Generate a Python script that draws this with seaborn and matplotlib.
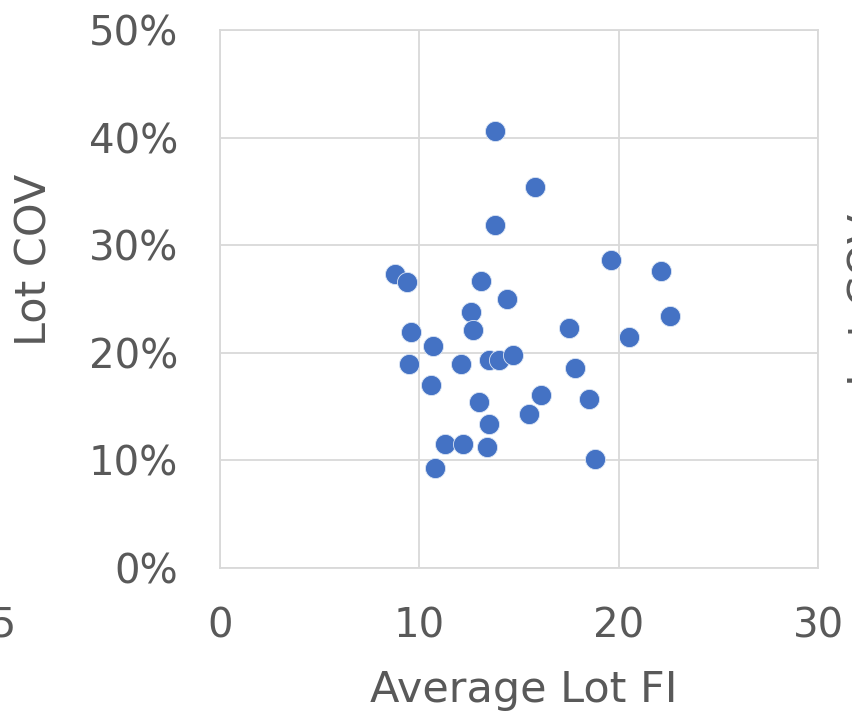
import matplotlib
matplotlib.use("Agg")
import matplotlib.pyplot as plt
import seaborn as sns
import pandas as pd
from matplotlib.ticker import PercentFormatter, MultipleLocator

avg_lot_fi = [8.8, 9.4, 13.1, 14.4, 12.6, 12.7, 9.6, 10.7, 9.5, 12.1, 13.5, 14.0,
              14.7, 10.6, 13.0, 13.5, 11.3, 12.2, 13.4, 10.8, 16.1, 15.5, 17.5,
              17.8, 18.5, 18.8, 19.6, 22.1, 22.6, 20.5, 13.8, 15.8, 13.8]
lot_cov = [0.273, 0.266, 0.267, 0.250, 0.238, 0.221, 0.2195, 0.206, 0.190, 0.190,
           0.193, 0.193, 0.198, 0.170, 0.154, 0.134, 0.1155, 0.1155, 0.112, 0.093,
           0.161, 0.143, 0.223, 0.186, 0.157, 0.101, 0.286, 0.276, 0.234, 0.215,
           0.406, 0.354, 0.319]

df = pd.DataFrame({"Average Lot FI": avg_lot_fi, "Lot COV": lot_cov})

sns.set_theme(style="white")
plt.rcParams['font.family'] = ['DejaVu Sans']
text_color = "#595959"
grid_color = "#D9D9D9"

fig = plt.figure(figsize=(8.53, 7.22), dpi=100)
ax = fig.add_axes([220/853, 1 - 568/722, (818 - 220)/853, (568 - 30)/722])

sns.scatterplot(data=df, x="Average Lot FI", y="Lot COV", ax=ax,
                color="#4472C4", s=210, edgecolor="#DCE6F5", linewidth=0.6,
                zorder=3, clip_on=False)

ax.set_xlim(0, 30)
ax.set_ylim(0, 0.5)
ax.xaxis.set_major_locator(MultipleLocator(10))
ax.yaxis.set_major_locator(MultipleLocator(0.1))
ax.yaxis.set_major_formatter(PercentFormatter(1.0, decimals=0))
ax.grid(True, color=grid_color, linewidth=1.3)
for s in ax.spines.values():
    s.set_color(grid_color)
    s.set_linewidth(1.3)

ax.tick_params(axis="both", length=0, labelsize=29, colors=text_color)
ax.tick_params(axis="y", pad=30)
ax.tick_params(axis="x", pad=28)

ax.set_xlabel("Average Lot FI", fontsize=31, color=text_color)
ax.set_ylabel("Lot COV", fontsize=31, color=text_color)
ax.xaxis.set_label_coords(524/598 - 220/598 * 0 - 0.0, 0)  # placeholder, reset below
ax.xaxis.set_label_coords((524 - 220)/598, -(690 - 568)/538)
ax.xaxis.label.set_va("center")
ax.yaxis.set_label_coords(-(220 - 35)/598, (568 - 260)/538)
ax.yaxis.label.set_va("center")

# fragments of neighbouring charts, cut by the crop
fig.text(-9/853, 1 - 627/722, "25", fontsize=29, color=text_color,
         ha="center", va="center")
fig.text(868/853, 1 - 300/722, "Lot COV", fontsize=31, color=text_color,
         rotation=90, ha="center", va="center")

fig.savefig("out.png", dpi=100)
